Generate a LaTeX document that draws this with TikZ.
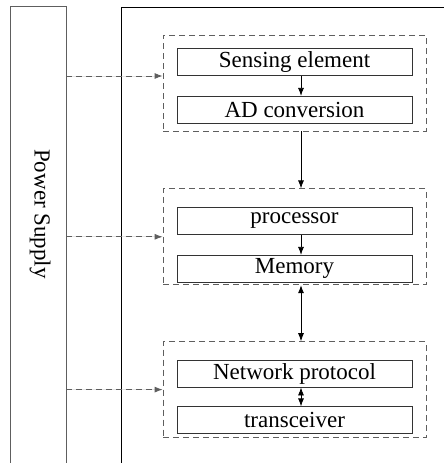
\documentclass[tikz,border=0pt]{standalone}
\usepackage{fontspec}
\setmainfont{Liberation Serif}
\usetikzlibrary{positioning,arrows.meta}
\definecolor{cGray}{HTML}{5E5E5E}
\definecolor{cBox}{HTML}{333333}
\tikzset{
  blk/.style={draw=cBox,minimum width=235pt,minimum height=27pt,inner sep=0pt,font=\fontsize{23}{27}\selectfont,line width=0.8pt},
  grp/.style={draw=cGray,dash pattern=on 6pt off 4pt,minimum width=263pt,minimum height=96pt,line width=0.8pt},
  arr/.style={-{Latex[length=8pt,width=6pt]},line width=0.8pt},
  darr/.style={{Latex[length=8pt,width=6pt]}-{Latex[length=8pt,width=6pt]},line width=0.8pt},
  parr/.style={-{Latex[length=8pt,width=6pt]},line width=0.8pt,dash pattern=on 6pt off 4pt,draw=cGray,fill=cBox}}

\begin{document}
\begin{tikzpicture}[x=1pt,y=-1pt]
\useasboundingbox (0,0) rectangle (444,463);
% power supply column, open at the bottom
\node[minimum width=55pt,minimum height=456pt,inner sep=0pt] (power) at (38.5,235) {};
\draw[cGray,line width=0.8pt] (power.south west) |- (power.north east) -- (power.south east);
\node[rotate=-90,font=\fontsize{23}{27}\selectfont] (pslabel) at (40,214) {Power Supply};
% node frame
\coordinate (frame) at (121,463);
\coordinate (frametop) at (444,7);
\draw[line width=0.8pt] (frame) |- (frametop);
% groups
\node[grp] (g1) at (294.5,83) {};
\node[grp, below=57pt of g1] (g2) {};
\node[grp, below=56pt of g2] (g3) {};
% blocks
\node[blk] (sense) at (294.5,62) {Sensing element};
\node[blk, below=20pt of sense] (adc) {AD conversion};
\node[blk] (proc) at (294.5,221) {processor};
\node[blk, below=20pt of proc] (mem) {Memory};
\node[blk] (net) at (294.5,373.5) {Network protocol};
\node[blk, below=19pt of net] (trx) {transceiver};
% data flow
\draw[arr] ([xshift=6.5pt]sense.south) -- ([xshift=6.5pt]adc.north);
\draw[arr] ([xshift=6.5pt]g1.south) -- ([xshift=6.5pt]g2.north);
\draw[arr] ([xshift=6.5pt]proc.south) -- ([xshift=6.5pt]mem.north);
\draw[darr] ([xshift=6.5pt]g2.south) -- ([xshift=6.5pt]g3.north);
\draw[darr] ([xshift=6.5pt]net.south) -- ([xshift=6.5pt]trx.north);
% power lines
\draw[parr] ([yshift=7pt]power.east |- g1.west) -- ([yshift=7pt]g1.west);
\draw[parr] (power.east |- g2.west) -- (g2.west);
\draw[parr] (power.east |- g3.west) -- (g3.west);
\end{tikzpicture}
\end{document}
